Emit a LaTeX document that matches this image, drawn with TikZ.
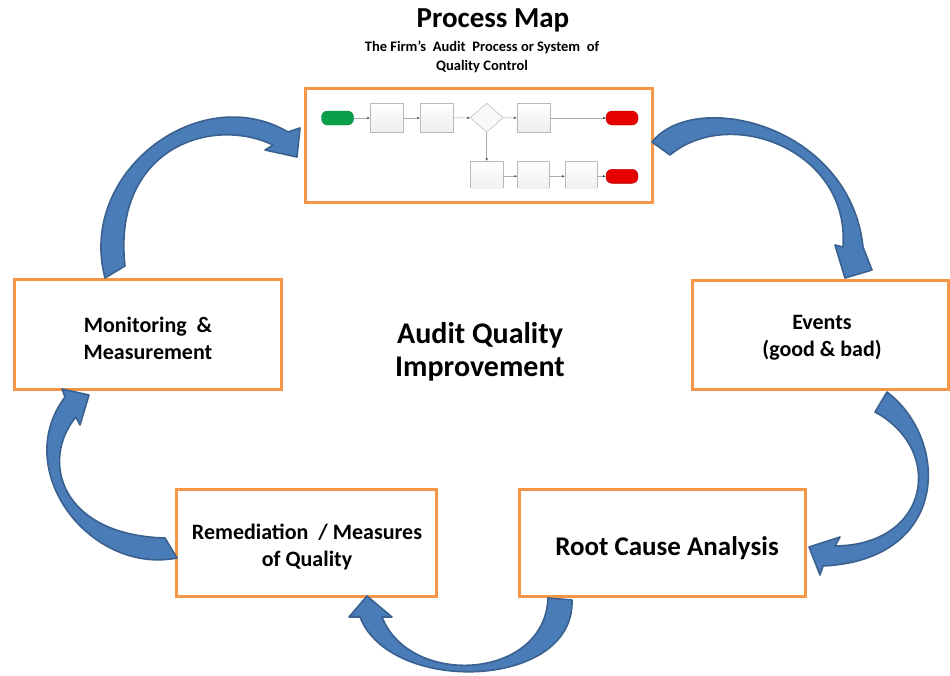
\documentclass[tikz,border=0pt]{standalone}
\usepackage{fontspec}
\setmainfont{Carlito}
\usetikzlibrary{shapes.geometric,arrows.meta}
\definecolor{orgC}{HTML}{F79646}
\definecolor{arrF}{HTML}{4A7CB8}
\definecolor{arrD}{HTML}{3A6190}
\definecolor{pillG}{HTML}{0AA04A}
\definecolor{pillR}{HTML}{E60000}
\begin{document}
\begin{tikzpicture}[x=1pt,y=-1pt,
  obox/.style={draw=orgC, line width=3pt, inner sep=0pt},
  btxt/.style={font=\fontsize{22}{27}\selectfont\bfseries, align=center, inner sep=0pt},
  barrow/.style={fill=arrF, draw=arrD, line width=1.6pt, line join=round},
  mrect/.style={draw=gray!55, line width=0.5pt, top color=white, bottom color=gray!14, minimum width=33pt, minimum height=29pt, inner sep=0pt},
  mopen/.style={draw=none, top color=white, bottom color=gray!12, minimum width=32pt, minimum height=27pt, inner sep=0pt},
  mdia/.style={diamond, draw=gray!55, line width=0.5pt, fill=gray!5, minimum width=33pt, minimum height=29pt, inner sep=0pt},
  gpill/.style={rounded corners=6pt, fill=pillG, draw=pillG!80!black, line width=0.4pt, minimum width=32pt, minimum height=14pt, inner sep=0pt},
  rpill/.style={rounded corners=6pt, fill=pillR, draw=pillR!80!black, line width=0.4pt, minimum width=32pt, minimum height=14pt, inner sep=0pt},
  mline/.style={draw=gray!65, line width=0.6pt, -{Latex[length=2.6pt,width=2.6pt,color=black!70]}}
]
\useasboundingbox (0,0) rectangle (950,675);
\fill[white] (0,0) rectangle (950,675);

% main boxes
\node[obox, minimum width=347pt, minimum height=114pt] (pm) at (478.5,145) {};
\node[obox, minimum width=267pt, minimum height=110pt] (mon) at (147.5,334) {};
\node[obox, minimum width=256pt, minimum height=109pt] (evt) at (820,334.5) {};
\node[obox, minimum width=260pt, minimum height=107pt] (rem) at (306,542.5) {};
\node[obox, minimum width=286pt, minimum height=107pt] (rca) at (662,542.5) {};

% mini flowchart
\node[gpill] (st) at (337.5,118) {};
\node[mrect] (r1) at (386.7,118) {};
\node[mrect] (r2) at (436.7,118) {};
\node[mdia] (d1) at (486.7,117.7) {};
\node[mrect] (r3) at (533.3,118) {};
\node[rpill] (e1) at (622,118) {};
\node[mopen] (r4) at (486.7,174.7) {};
\node[mopen] (r5) at (533.3,174.7) {};
\node[mopen] (r6) at (581,174.7) {};
\node[rpill] (e2) at (622,176.3) {};
\foreach \n in {r4,r5,r6}{
  \draw[gray!55, line width=0.5pt] (\n.south west) |- (\n.north east) -- (\n.south east);
}
\draw[mline] (st) -- (r1);
\draw[mline] (r1) -- (r2);
\draw[mline] (r2) -- (d1);
\draw[mline] (d1) -- (r3);
\draw[mline] (r3) -- (e1);
\draw[mline] (d1.south) -- (r4.north);
\draw[mline] (r4.east |- e2) -- (r5.west |- e2);
\draw[mline] (r5.east |- e2) -- (r6.west |- e2);
\draw[mline] (r6.east |- e2) -- (e2);

% curved block arrows
% A: Monitoring -> Process map
\filldraw[barrow] (105,278) .. controls (77,172) and (200,80) .. (288,132)
  -- (300,128) -- (297,157) -- (265,150) -- (273,145)
  .. controls (210,115) and (112,150) .. (125,266) -- cycle;
% B: Process map -> Events
\filldraw[barrow] (652,142) .. controls (695,88) and (850,125) .. (863,247)
  -- (872,270) -- (845,278) -- (835,245) -- (843,247)
  .. controls (850,150) and (730,105) .. (670,155) -- cycle;
% C: Events -> Root cause
\filldraw[barrow] (887,392) .. controls (950,440) and (950,560) .. (823,566)
  -- (820,575) -- (809,547) -- (840,537) -- (835,546)
  .. controls (930,545) and (945,450) .. (875,412) -- cycle;
% D: Root cause -> Remediation
\filldraw[barrow] (572,600) .. controls (575,690) and (390,695) .. (360,617)
  -- (349,617) -- (367,596) -- (392,617) -- (382,617)
  .. controls (410,688) and (545,680) .. (548,598) -- cycle;
% E: Remediation -> Monitoring
\filldraw[barrow] (177,558) .. controls (90,575) and (10,470) .. (65,397)
  -- (62,389) -- (89,395) -- (80,425) -- (76,417)
  .. controls (40,460) and (60,535) .. (165,538) -- cycle;

% texts
\node[font=\fontsize{29}{33}\selectfont\bfseries, inner sep=0pt] (ttl) at (493,20) {Process Map};
\node[font=\fontsize{14.5}{19}\selectfont\bfseries, align=center, inner sep=0pt] (sub) at (482,57) {The Firm’s\ \ Audit\ \ Process or System\ \ of\\Quality Control};
\node[font=\fontsize{30}{33}\selectfont\bfseries, align=center, inner sep=0pt] (aqi) at (480,352) {Audit Quality\\Improvement};
\node[btxt] (monT) at (148,338) {Monitoring\ \ \&\\Measurement};
\node[btxt] (evtT) at (822,338) {Events\\(good \& bad)};
\node[btxt] (remT) at (307,547) {Remediation\ \ / Measures\\of Quality};
\node[font=\fontsize{27}{30}\selectfont\bfseries, inner sep=0pt] (rcaT) at (667,548) {Root Cause Analysis};
\end{tikzpicture}
\end{document}
